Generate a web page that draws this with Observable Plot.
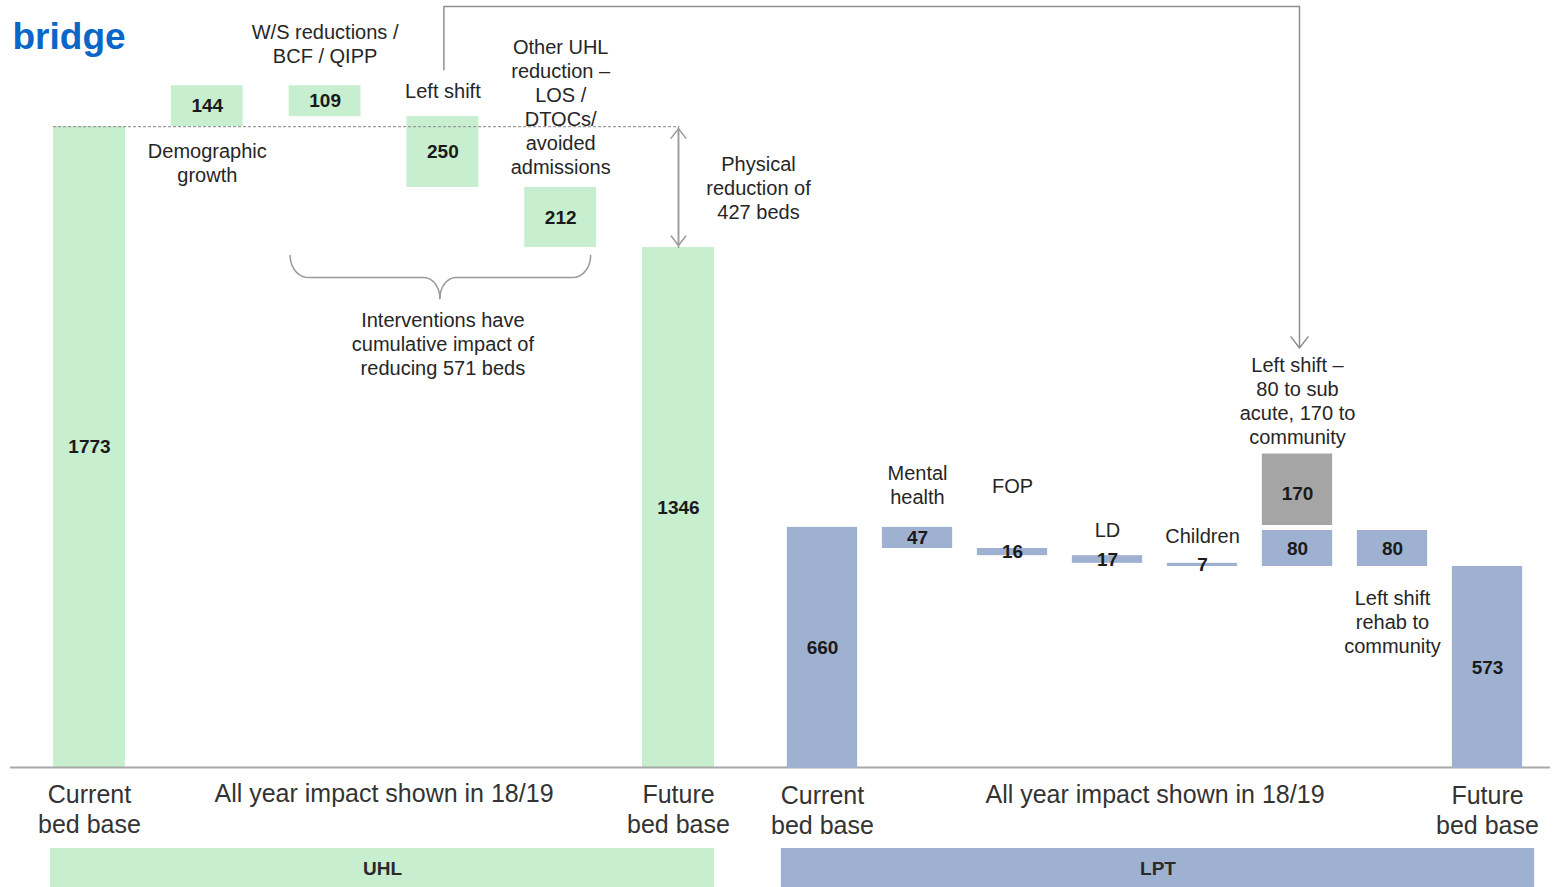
<!DOCTYPE html>
<html>
<head>
<meta charset="utf-8">
<script src="https://cdn.jsdelivr.net/npm/d3@7"></script>
<script src="https://cdn.jsdelivr.net/npm/@observablehq/plot@0.6"></script>
<style>
  body { margin: 0; background: #ffffff; }
</style>
</head>
<body>
<script>
// ---------------- data ----------------
const chartTitle = "bridge";
const uhlCategories = ["Current\nbed base", "Demographic\ngrowth", "W/S reductions /\nBCF / QIPP", "Left shift",
  "Other UHL\nreduction –\nLOS /\nDTOCs/\navoided\nadmissions", "Future\nbed base"];
const uhlValues = [1773, 144, -109, -250, -212, 1346];
const uhlIsTotal = [true, false, false, false, false, true];

const lptCategories = ["Current\nbed base", "Mental\nhealth", "FOP", "LD", "Children",
  "Left shift –\n80 to sub\nacute, 170 to\ncommunity", "Left shift\nrehab to\ncommunity", "Future\nbed base"];
const lptValues = [660, -47, -16, -17, -7, 80, -80, 573];
const lptIsTotal = [true, false, false, false, false, false, false, true];
const lptCommunity = [170]; // left shift to community (grey box stacked on the 80)

const groupNames = ["UHL", "LPT"];
const periodNote = "All year impact shown in 18/19";
const physicalNote = "Physical\nreduction of\n427 beds";
const interventionNote = "Interventions have\ncumulative impact of\nreducing 571 beds";

// ---------------- styles ----------------
const green = "#c6eecf", blue = "#9fb1d0", grey = "#a5a5a5";
const textColor = "#262626", numColor = "#1a1a1a", lineColor = "#9a9a9a";
const fontFamily = '"Liberation Sans", Arial, sans-serif';
const W = 1554, H = 887;

function waterfall(names, values, totals, floor) {
  let run = 0;
  return names.map((name, i) => {
    const v = values[i];
    const start = totals[i] ? floor : run;
    const end = totals[i] ? v : run + v;
    run = end;
    return {i, name, value: Math.abs(v), start, end, top: Math.max(start, end), bottom: Math.min(start, end), total: totals[i]};
  });
}

// ---------------- UHL ----------------
const xU = {type: "linear", domain: [0, 5], range: [89, 678], axis: null};
const yU = {type: "linear", domain: [-489, 2218], range: [767, 0], axis: null};
const hwU = 0.305;
const uhl = waterfall(uhlCategories, uhlValues, uhlIsTotal, yU.domain[0]);
const uhlSteps = uhl.filter(d => !d.total);
const labelU = (i, anchor, dy) => Plot.text([uhl[i]], {
  x: "i", y: anchor, dy, text: "name", fontSize: 20, lineHeight: 1.2, fill: textColor
});

const p1 = Plot.plot({
  width: W, height: H, marginTop: 0, marginBottom: 0, marginLeft: 10, marginRight: 4,
  x: xU, y: yU,
  style: {background: "white", fontFamily},
  marks: [
    Plot.rect(uhl, {x1: d => d.i - hwU, x2: d => d.i + hwU, y1: "bottom", y2: "top", fill: green}),
    Plot.ruleY([yU.domain[0]], {stroke: "#a8a8a8", strokeWidth: 2}),
    Plot.ruleY([uhlValues[0]], {x1: -hwU, x2: 5, stroke: lineColor, strokeWidth: 1.3, strokeDasharray: "3,2"}),
    Plot.arrow([0], {x1: 5, x2: 5, y1: uhlValues[5], y2: uhlValues[0], stroke: lineColor, strokeWidth: 1.5, headLength: 12, headAngle: 75, insetEnd: 2}),
    Plot.arrow([0], {x1: 5, x2: 5, y1: uhlValues[0], y2: uhlValues[5], stroke: lineColor, strokeWidth: 1.5, headLength: 12, headAngle: 75, insetEnd: 2}),
    Plot.text(uhl, {x: "i", y: d => (d.start + d.end) / 2, text: d => String(d.value), fontSize: 19, fontWeight: "bold", fill: numColor}),
    labelU(1, "bottom", 36),
    labelU(2, "top", -42),
    labelU(3, "top", -26),
    labelU(4, "top", -81),
    Plot.text([physicalNote], {x: 5, dx: 80, y: (uhlValues[0] + uhlValues[5]) / 2, text: d => d, fontSize: 20, lineHeight: 1.2, fill: textColor}),
    Plot.text([interventionNote], {x: d3.mean(uhlSteps.slice(1), d => d.i), y: uhlValues[5], dy: 96, text: d => d, fontSize: 20, lineHeight: 1.2, fill: textColor}),
    Plot.text(uhl.filter(d => d.total), {x: "i", y: yU.domain[0], dy: 41, text: "name", fontSize: 25, lineHeight: 1.2, fill: "#333"}),
    Plot.text([periodNote], {x: d3.mean(uhlSteps, d => d.i), y: yU.domain[0], dy: 26, text: d => d, fontSize: 25, fill: "#333"})
  ]
});

// ---------------- LPT ----------------
const xL = {type: "linear", domain: [0, 7], range: [822, 1487], axis: null};
const yL = {type: "linear", domain: [124, 1831], range: [768, 0], axis: null};
const hwL = 0.37;
const lpt = waterfall(lptCategories, lptValues, lptIsTotal, yL.domain[0]);
const lptSteps = lpt.filter(d => !d.total);
const community = lptCommunity.map(v => ({i: 5, value: v, start: lpt[5].end, end: lpt[5].end + v}));
const labelL = (i, anchor, dy) => Plot.text([lpt[i]], {
  x: "i", y: anchor, dy, text: "name", fontSize: 20, lineHeight: 1.2, fill: textColor
});

const p2 = Plot.plot({
  width: W, height: H, margin: 0,
  x: xL, y: yL,
  style: {background: "transparent", fontFamily},
  marks: [
    Plot.rect(lpt, {x1: d => d.i - hwL, x2: d => d.i + hwL, y1: "bottom", y2: "top", fill: blue}),
    Plot.rect(community, {x1: d => d.i - hwL, x2: d => d.i + hwL, y1: "start", y2: "end", fill: grey, insetBottom: 5}),
    Plot.text(lpt, {x: "i", y: d => (d.start + d.end) / 2, text: d => String(d.value), fontSize: 19, fontWeight: "bold", fill: numColor}),
    Plot.text(community, {x: "i", y: d => (d.start + d.end) / 2, dy: 2, text: d => String(d.value), fontSize: 19, fontWeight: "bold", fill: numColor}),
    labelL(1, "top", -43),
    labelL(2, "top", -63),
    labelL(3, "top", -26),
    labelL(4, "top", -28),
    Plot.text([lpt[5]], {x: "i", y: d => d.end + lptCommunity[0], dy: -54, text: "name", fontSize: 20, lineHeight: 1.2, fill: textColor}),
    labelL(6, "bottom", 55),
    Plot.text(lpt.filter(d => d.total), {x: "i", y: yL.domain[0], dy: 41, text: "name", fontSize: 25, lineHeight: 1.2, fill: "#333"}),
    Plot.text([periodNote], {x: d3.mean(lptSteps, d => d.i), y: yL.domain[0], dy: 26, text: d => d, fontSize: 25, fill: "#333"})
  ]
});

// ---------------- overlay: title, brace, connector, group bands ----------------
const sx1 = p1.scale("x"), sy1 = p1.scale("y"), sx2 = p2.scale("x"), sy2 = p2.scale("y");

// curly brace under the three UHL reductions
const bl = sx1.apply(2 - hwU) + 1, br = sx1.apply(4 + hwU) - 6, bm = sx1.apply(3) - 3;
const bt = sy1.apply(uhlValues[5]) + 8;
const quarter = d3.range(0, 1.0001, 0.1).map(t => t * Math.PI / 2);
const braceLeft = [
  ...quarter.map(a => [bl + 18 * (1 - Math.cos(a)), bt + 22 * Math.sin(a)]),
  ...quarter.map(a => [bm - 16 + 16 * Math.sin(a), bt + 22 + 21 * (1 - Math.cos(a))])
];
const braceRight = [
  ...quarter.map(a => [br - 18 * (1 - Math.cos(a)), bt + 22 * Math.sin(a)]),
  ...quarter.map(a => [bm + 16 - 16 * Math.sin(a), bt + 22 + 21 * (1 - Math.cos(a))])
];

// connector from UHL left shift to LPT left shift
const cx1 = sx1.apply(3) + 1, cy1 = sy1.apply(uhl[3].top) - 47;
const cx2 = sx2.apply(5) + 2, cy2 = sy2.apply(lpt[5].end + lptCommunity[0]) - 54 - 52;
const ctop = 6;

const bands = [
  {name: groupNames[0], x1: sx1.apply(-hwU) - 3, x2: sx1.apply(5 + hwU), fill: green},
  {name: groupNames[1], x1: sx2.apply(-hwL) - 6, x2: sx2.apply(7 + hwL) + 12, fill: blue}
];

const p3 = Plot.plot({
  width: W, height: H, margin: 0,
  x: {type: "identity"}, y: {type: "identity"},
  style: {background: "transparent", fontFamily},
  marks: [
    Plot.text([chartTitle], {x: 12, y: 48, text: d => d, textAnchor: "start", lineAnchor: "bottom", fontSize: 37, fontWeight: "bold", fill: "#0a66c8"}),
    Plot.line(braceLeft, {stroke: lineColor, strokeWidth: 1.5}),
    Plot.line(braceRight, {stroke: lineColor, strokeWidth: 1.5}),
    Plot.line([[cx1, cy1], [cx1, ctop], [cx2, ctop]], {stroke: "#8f8f8f", strokeWidth: 1.5}),
    Plot.arrow([0], {x1: cx2, y1: ctop, x2: cx2, y2: cy2, stroke: "#8f8f8f", strokeWidth: 1.5, headLength: 14, headAngle: 75}),
    Plot.rect(bands, {x1: "x1", x2: "x2", y1: H - 39, y2: H, fill: "fill"}),
    Plot.text(bands, {x: d => (d.x1 + d.x2) / 2, y: H - 19, text: "name", fontSize: 19, fontWeight: "bold", fill: "#2a2a2a"})
  ]
});

// merge the three layers into a single SVG
const ns = "http://www.w3.org/2000/svg";
for (const layer of [p2, p3]) {
  const g = document.createElementNS(ns, "g");
  for (const child of Array.from(layer.childNodes)) {
    if (child.nodeName.toLowerCase() !== "style") g.appendChild(child);
  }
  p1.appendChild(g);
}
document.body.appendChild(p1);
</script>
</body>
</html>
